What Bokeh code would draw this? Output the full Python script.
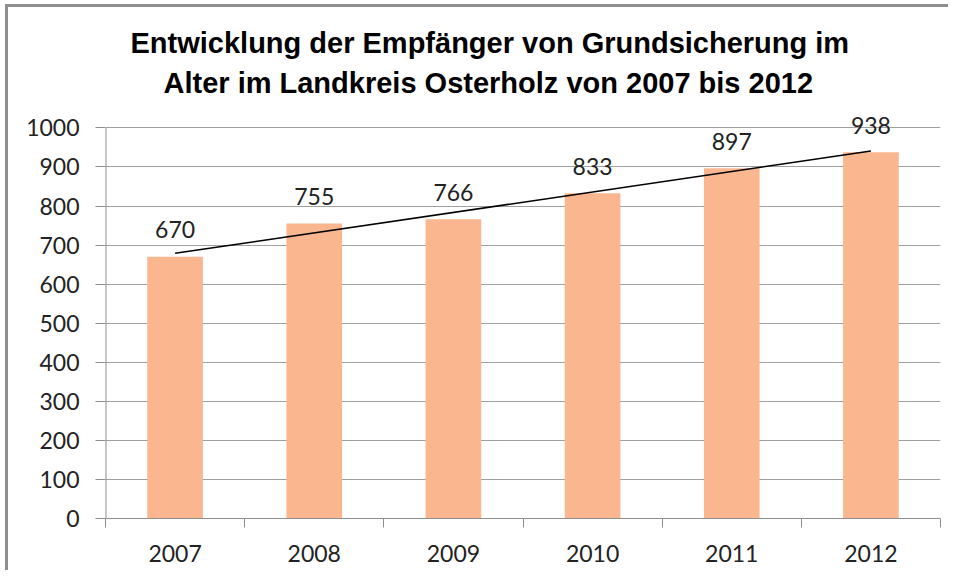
import numpy as np
from bokeh.plotting import figure
from bokeh.models import Range1d, FixedTicker, Title, LabelSet, ColumnDataSource
from bokeh.core.properties import value
from bokeh.embed import file_html
from bokeh.resources import INLINE

years = ["2007", "2008", "2009", "2010", "2011", "2012"]
recipients = [670, 755, 766, 833, 897, 938]
y_ticks = [0, 100, 200, 300, 400, 500, 600, 700, 800, 900, 1000]
title_line1 = "Entwicklung  der Empfänger von Grundsicherung im"
title_line2 = "Alter im Landkreis Osterholz von 2007 bis 2012"

xs = [i + 0.5 for i in range(len(years))]
src = ColumnDataSource(dict(x=xs, top=recipients, label=[str(v) for v in recipients]))

p = figure(width=940, height=563, output_backend="svg", toolbar_location=None,
           x_range=Range1d(0, len(years)), y_range=Range1d(0, 1060),
           min_border_left=97, min_border_right=11, min_border_top=97, min_border_bottom=55)
p.styles = {"border-left": "3px solid #8f8f8f", "border-top": "3px solid #8f8f8f",
            "margin-left": "5px", "margin-top": "4px", "box-sizing": "content-box"}
p.outline_line_color = None
p.background_fill_color = "white"
p.border_fill_color = "white"

p.add_layout(Title(text=title_line2, align="left", text_font="Liberation Sans",
                   text_font_size="29px", text_font_style="bold", text_color="black",
                   standoff=12, offset=58), "above")
p.add_layout(Title(text=title_line1, align="left", text_font="Liberation Sans",
                   text_font_size="29px", text_font_style="bold", text_color="black",
                   standoff=0, offset=25), "above")

p.vbar(x="x", top="top", width=0.4, source=src, fill_color="#FAB68F", line_color=None)

coef = np.polyfit(np.arange(len(recipients)), recipients, 1)
trend = [coef[1] + coef[0] * i for i in range(len(recipients))]
p.line(x=[xs[0], xs[-1]], y=[trend[0], trend[-1]], line_color="black", line_width=1.5)

labels = LabelSet(x="x", y="top", text="label", source=src, text_font=value("Lato"),
                  text_font_size=value("23px"), text_color=value("#222222"), text_align="center",
                  text_baseline="middle", y_offset=27)
p.add_layout(labels)

# y axis line only up to the top tick
p.segment(x0=[0], y0=[y_ticks[0]], x1=[0], y1=[y_ticks[-1]], line_color="#8f8f8f", line_width=2)

p.xgrid.visible = False
p.ygrid.grid_line_color = "#a0a0a0"
p.ygrid.grid_line_width = 1.2
p.ygrid.ticker = FixedTicker(ticks=y_ticks)

p.yaxis.ticker = FixedTicker(ticks=y_ticks)
p.yaxis.axis_line_color = None
p.yaxis.major_tick_line_color = "#8f8f8f"
p.yaxis.major_tick_out = 10
p.yaxis.major_tick_in = 0
p.yaxis.minor_tick_line_color = None
p.yaxis.major_label_standoff = 16
p.yaxis.major_label_text_font = "Lato"
p.yaxis.major_label_text_font_size = "23px"
p.yaxis.major_label_text_color = "#222222"

p.xaxis.ticker = FixedTicker(ticks=xs, minor_ticks=list(range(len(years) + 1)))
p.xaxis.major_label_overrides = {x: y for x, y in zip(xs, years)}
p.xaxis.axis_line_color = "#8f8f8f"
p.xaxis.major_tick_line_color = None
p.xaxis.major_tick_out = 0
p.xaxis.minor_tick_line_color = "#8f8f8f"
p.xaxis.minor_tick_out = 9
p.xaxis.minor_tick_in = 0
p.xaxis.major_label_standoff = 17
p.xaxis.major_label_text_font = "Lato"
p.xaxis.major_label_text_font_size = "23px"
p.xaxis.major_label_text_color = "#222222"

open("out.html", "w").write(file_html(p, INLINE))
